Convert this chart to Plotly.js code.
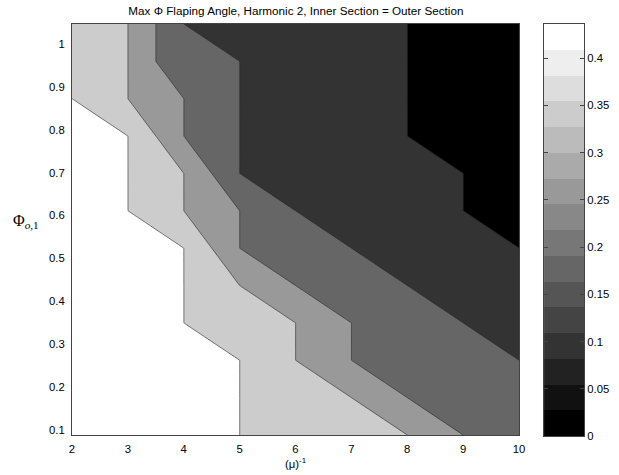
<!DOCTYPE html>
<html>
<head>
<meta charset="utf-8">
<script src="https://cdn.plot.ly/plotly-3.0.1.min.js"></script>
<style>
  html, body { margin: 0; padding: 0; background: #fff; }
  #chart { width: 619px; height: 475px; }
</style>
</head>
<body>
<div id="chart"></div>
<script>
// Inverse advance ratio (mu)^-1
const invMu = [2, 3, 4, 5, 6, 7, 8, 9, 10];

// Outer-section amplitude Phi_o,1, in degrees (plotted in radians)
const phiDeg = [5, 10, 15, 20, 25, 30, 35, 40, 45, 50, 55, 60];

// Max flapping angle Phi, in degrees; one row per phiDeg entry, one column per invMu entry
const maxPhiDeg = [
  [25, 25, 25, 25, 20, 20, 20, 15, 10],
  [25, 25, 25, 25, 20, 20, 15, 10, 10],
  [25, 25, 25, 25, 20, 15, 10, 10, 10],
  [25, 25, 25, 20, 20, 15, 10, 10,  5],
  [25, 25, 25, 20, 15, 10, 10,  5,  5],
  [25, 25, 25, 15, 10, 10,  5,  5,  5],
  [25, 25, 20, 15, 10,  5,  5,  5,  0],
  [25, 25, 20, 10,  5,  5,  5,  5,  0],
  [25, 25, 15, 10,  5,  5,  5,  0,  0],
  [25, 20, 15, 10,  5,  5,  5,  0,  0],
  [20, 20, 10, 10,  5,  5,  5,  0,  0],
  [20, 20, 10,  5,  5,  5,  5,  0,  0]
];

// Contour levels (degrees) and colour-bar settings
const levelStepDeg = 5;
const firstLevelDeg = 5;
const lastLevelDeg = 25;
const colormapSize = 16;
const xTicks = [2, 3, 4, 5, 6, 7, 8, 9, 10];
const yTicks = [0.1, 0.2, 0.3, 0.4, 0.5, 0.6, 0.7, 0.8, 0.9, 1];
const yTickText = ['0.1', '0.2', '0.3', '0.4', '0.5', '0.6', '0.7', '0.8', '0.9', '1'];
const cbTicks = [0, 0.05, 0.1, 0.15, 0.2, 0.25, 0.3, 0.35, 0.4];
const cbTickText = ['0', '0.05', '0.1', '0.15', '0.2', '0.25', '0.3', '0.35', '0.4'];

const rad = d => d * Math.PI / 180;
const phiRad = phiDeg.map(rad);
const maxPhiRad = maxPhiDeg.map(row => row.map(rad));
const zMax = rad(lastLevelDeg);

// levels sit a hair below each step so grid values equal to a level count as filled (z >= level)
const eps = rad(0.01);
const contourStart = rad(firstLevelDeg) - eps;
const contourSize = rad(levelStepDeg);
const contourEnd = rad(lastLevelDeg) - eps;

// stepped gray colormap shown in the colour bar
const cbEdges = [];
for (let k = 0; k <= colormapSize; k++) cbEdges.push(k * zMax / colormapSize);
const cbIndex = [];
for (let k = 0; k < colormapSize; k++) cbIndex.push([k]);

const font = 'Liberation Sans, Arial, sans-serif';

const contourTrace = {
  type: 'contour',
  x: invMu,
  y: phiRad,
  z: maxPhiRad,
  autocontour: false,
  contours: { start: contourStart, end: contourEnd, size: contourSize, coloring: 'fill', showlines: true },
  colorscale: [[0, 'rgb(0,0,0)'], [1, 'rgb(255,255,255)']],
  line: { color: 'rgb(40,40,40)', width: 0.6, smoothing: 0 },
  showscale: false,
  hoverinfo: 'skip',
  xaxis: 'x',
  yaxis: 'y'
};

const colorbarTrace = {
  type: 'heatmap',
  x: [0, 1],
  y: cbEdges,
  z: cbIndex,
  zmin: 0,
  zmax: colormapSize - 1,
  colorscale: [[0, 'rgb(0,0,0)'], [1, 'rgb(255,255,255)']],
  showscale: false,
  hoverinfo: 'skip',
  xaxis: 'x2',
  yaxis: 'y2'
};

const layout = {
  width: 619,
  height: 475,
  margin: { l: 72, r: 35, t: 24, b: 39, pad: 0 },
  paper_bgcolor: '#ffffff',
  plot_bgcolor: '#ffffff',
  showlegend: false,
  font: { family: font, size: 11, color: '#000' },
  title: {
    text: 'Max \u03A6 Flaping Angle, Harmonic 2, Inner Section = Outer Section',
    font: { family: font, size: 11.7, color: '#000' },
    xref: 'container', yref: 'container',
    x: 0.478, y: 0.977, xanchor: 'center', yanchor: 'middle'
  },
  xaxis: {
    domain: [0, 0.873],
    range: [2, 10],
    tickvals: xTicks,
    ticktext: xTicks.map(String),
    ticks: 'outside', ticklen: 3, tickcolor: 'rgba(0,0,0,0)',
    showline: true, linecolor: '#444', linewidth: 1, mirror: true,
    showgrid: false, zeroline: false,
    tickfont: { family: font, size: 11.3, color: '#000' },
    anchor: 'y'
  },
  yaxis: {
    domain: [0.0024, 1],
    range: [phiRad[0], phiRad[phiRad.length - 1]],
    tickvals: yTicks,
    ticktext: yTickText,
    ticks: 'outside', ticklen: 4, tickcolor: 'rgba(0,0,0,0)',
    showline: true, linecolor: '#444', linewidth: 1, mirror: true,
    showgrid: false, zeroline: false,
    tickfont: { family: font, size: 11.3, color: '#000' },
    anchor: 'x'
  },
  xaxis2: {
    domain: [0.922, 1],
    range: [0, 1],
    showticklabels: false, ticks: '',
    showline: true, linecolor: '#444', linewidth: 1, mirror: true,
    showgrid: false, zeroline: false,
    anchor: 'y2'
  },
  yaxis2: {
    domain: [0, 1],
    range: [0, zMax],
    side: 'right',
    tickvals: cbTicks,
    ticktext: cbTickText,
    ticks: 'inside', ticklen: 4, tickcolor: '#444', tickwidth: 1,
    showline: true, linecolor: '#444', linewidth: 1, mirror: 'ticks',
    showgrid: false, zeroline: false,
    tickfont: { family: font, size: 11.3, color: '#000' },
    anchor: 'x2'
  },
  annotations: [
    {
      text: '(\u03BC)<sup>-1</sup>',
      xref: 'paper', yref: 'paper',
      x: 0.4375, y: -0.065, xanchor: 'center', yanchor: 'middle',
      showarrow: false,
      font: { family: font, size: 11.3, color: '#000' }
    },
    {
      text: '\u03A6<sub><i>o</i>,1</sub>',
      xref: 'paper', yref: 'paper',
      x: -0.09, y: 0.52, xanchor: 'center', yanchor: 'middle',
      showarrow: false,
      font: { family: 'Liberation Serif, Times New Roman, serif', size: 16, color: '#000' }
    }
  ]
};

Plotly.newPlot('chart', [contourTrace, colorbarTrace], layout, { staticPlot: true, displayModeBar: false });
</script>
</body>
</html>
